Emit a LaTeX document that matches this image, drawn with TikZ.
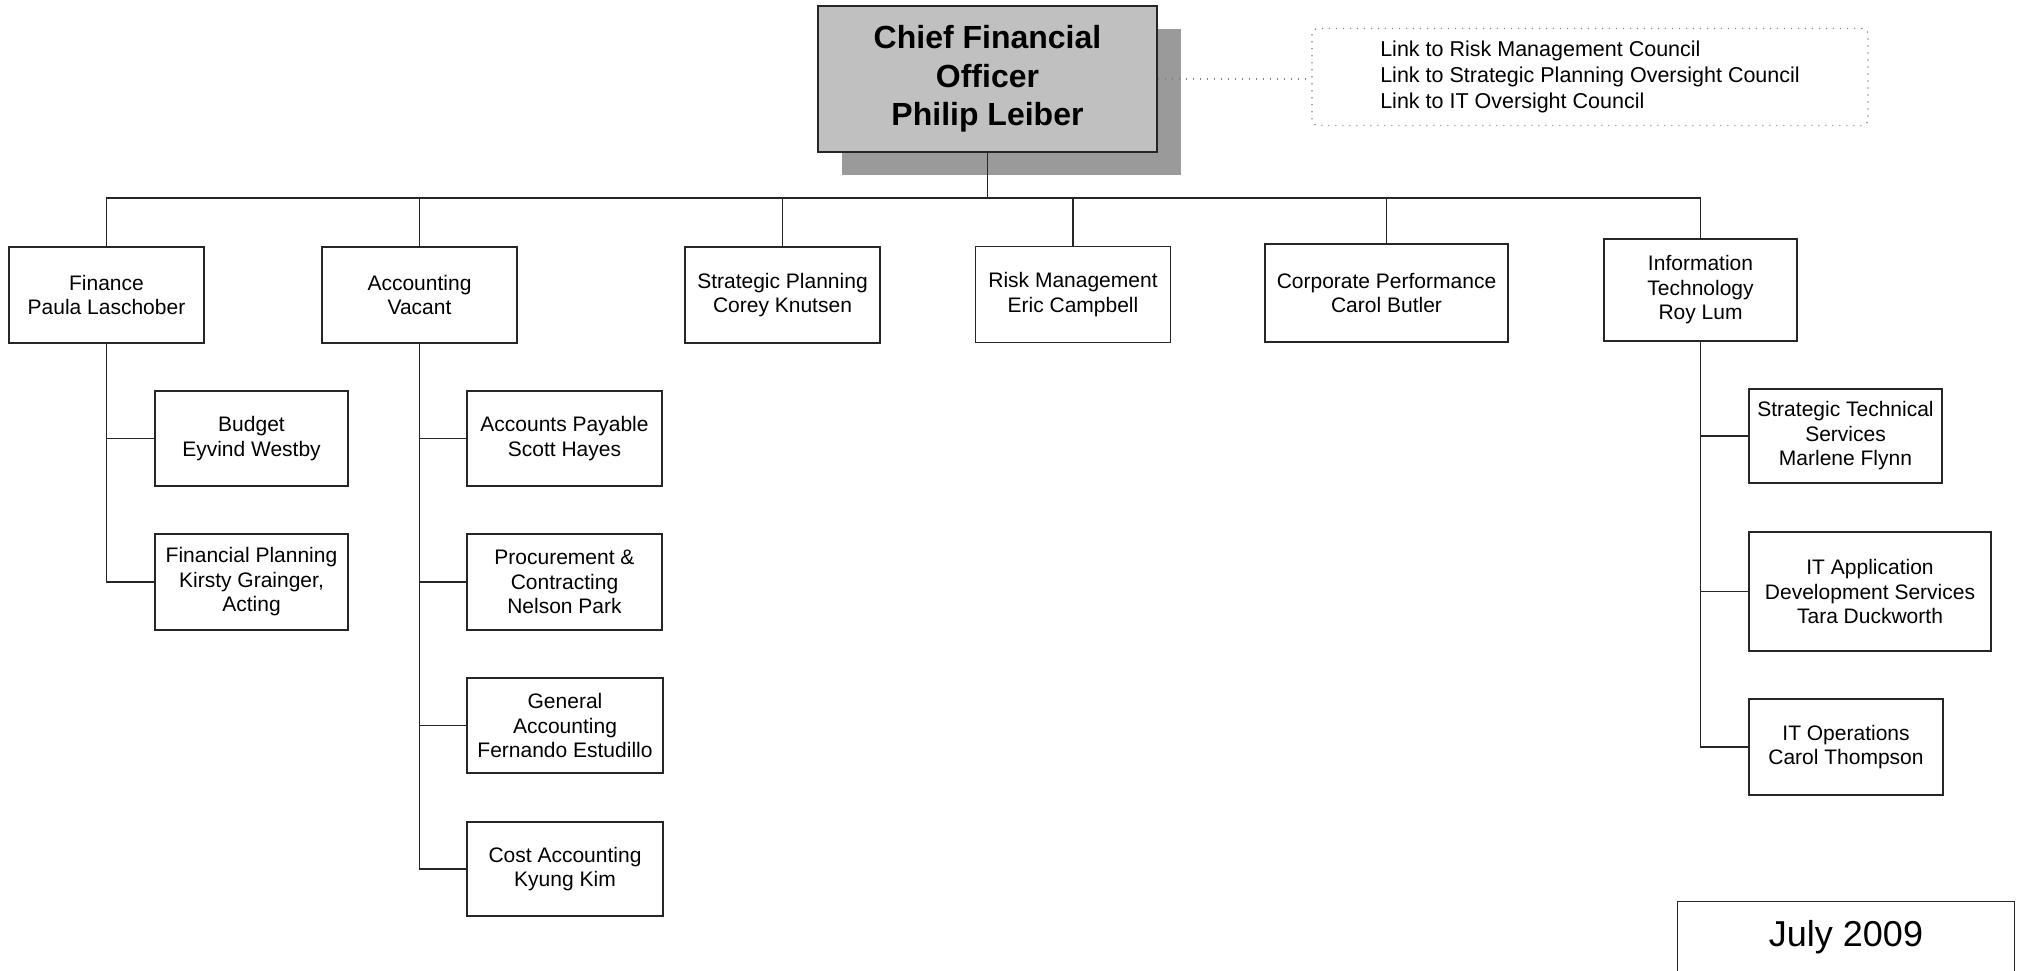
\documentclass[tikz,border=0pt]{standalone}
\usepackage{fontspec}
\setmainfont{Liberation Sans}
\usetikzlibrary{shadows}
\definecolor{cfofill}{HTML}{C0C0C0}
\definecolor{cfoshadow}{HTML}{9A9A9A}
\definecolor{linkgray}{HTML}{808080}

\begin{document}
\begin{tikzpicture}[x=1pt,y=-1pt,
    unit/.style={draw=black!85, line width=1.3pt, fill=white, inner sep=0pt, align=center,
        minimum width=195pt, minimum height=96pt, font=\fontsize{21}{24.5}\selectfont},
    chief/.style={unit, fill=cfofill, minimum width=339pt, minimum height=146pt,
        font=\fontsize{32}{38.5}\selectfont\bfseries,
        drop shadow={shadow xshift=24pt, shadow yshift=-23pt, fill=cfoshadow, opacity=1}},
    linkbox/.style={draw=linkgray, line width=1.2pt, dash pattern=on 1.2pt off 5.8pt,
        rounded corners=6pt, inner sep=0pt, align=left, minimum width=556pt, minimum height=97pt,
        font=\fontsize{21.5}{25.7}\selectfont},
    wire/.style={draw=black!85, line width=1.2pt}]
    \useasboundingbox (0,0) rectangle (2017,971);

    % top of the chart
    \node[chief] (cfo) at (987.5,79) {Chief Financial\\Officer\\Philip Leiber};
    \node[linkbox] (links) at (1590,77) {Link to Risk Management Council\\
        Link to Strategic Planning Oversight Council\\Link to IT Oversight Council};
    \draw[linkbox] (cfo.east) -- (cfo.east -| links.west);

    % first level
    \node[unit] (fin) at (106.5,295) {Finance\\Paula Laschober};
    \node[unit] (acc) at (419.5,295) {Accounting\\Vacant};
    \node[unit] (strat) at (782.5,295) {Strategic Planning\\Corey Knutsen};
    \node[unit] (risk) at (1073,294.5) {Risk Management\\Eric Campbell};
    \node[unit, minimum width=243pt, minimum height=98pt] (corp) at (1386.5,293) {Corporate Performance\\Carol Butler};
    \node[unit, minimum width=193pt, minimum height=102pt] (it) at (1700.5,290) {Information\\Technology\\Roy Lum};

    \coordinate (bus) at (0,198);
    \draw[wire] (fin.north) -- (fin.north |- bus) -- (it.north |- bus) -- (it.north);
    \draw[wire] (cfo.south) -- (cfo.south |- bus);
    \foreach \n in {acc,strat,risk,corp} % edit here for the drops from the bus
    \draw[wire] (\n.north) -- (\n.north |- bus);

    % finance
    \node[unit, minimum width=193pt, minimum height=95pt] (bud) at (251.5,438.5) {Budget\\Eyvind Westby};
    \node[unit, minimum width=193pt] (finplan) at (251.5,582) {Financial Planning\\Kirsty Grainger,\\Acting};
    \foreach \c in {bud,finplan}
    \draw[wire] (fin.south) |- (\c.west);

    % accounting
    \node[unit, minimum height=95pt] (ap) at (564.5,438.5) {Accounts Payable\\Scott Hayes};
    \node[unit] (proc) at (564.5,582) {Procurement \&\\Contracting\\Nelson Park};
    \node[unit, minimum width=196pt, minimum height=95pt] (genacc) at (565,725.5) {General\\Accounting\\Fernando Estudillo};
    \node[unit, minimum width=196pt, minimum height=94pt] (costacc) at (565,869) {Cost Accounting\\Kyung Kim};
    \foreach \c in {ap,proc,genacc,costacc}
    \draw[wire] (acc.south) |- (\c.west);

    % information technology
    \node[unit, minimum width=193pt, minimum height=94pt] (sts) at (1845.5,436) {Strategic Technical\\Services\\Marlene Flynn};
    \node[unit, minimum width=242pt, minimum height=119pt] (itapp) at (1870,591.5) {IT Application\\Development Services\\Tara Duckworth};
    \node[unit, minimum width=194pt] (itops) at (1846,747) {IT Operations\\Carol Thompson};
    \foreach \c in {sts,itapp,itops}
    \draw[wire] (it.south) |- (\c.west);

    % date, the box runs off the page
    \node[inner sep=0pt, minimum width=337pt, minimum height=70pt, font=\fontsize{36}{40}\selectfont] (july) at (1846,937) {July 2009};
    \draw[wire] (july.south west) -- (july.north west) -- (july.north east) -- (july.south east);
\end{tikzpicture}
\end{document}
